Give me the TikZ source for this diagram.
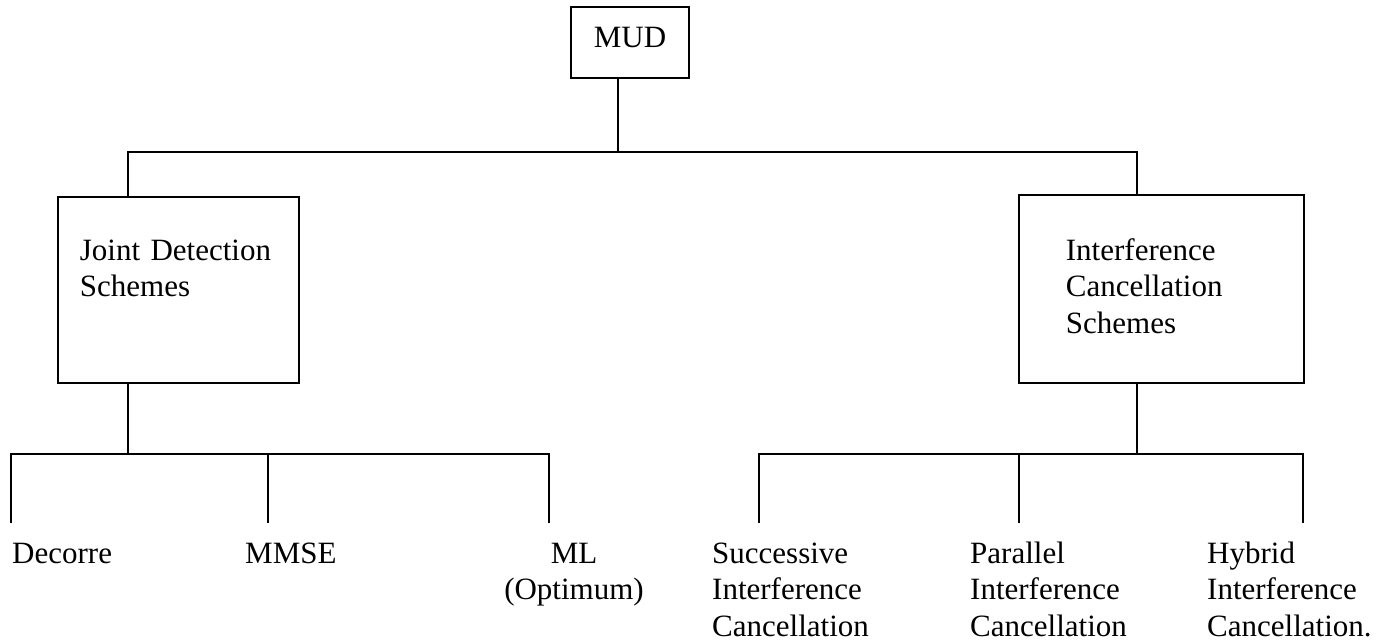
\documentclass[tikz,border=0pt]{standalone}
\usepackage{fontspec}
\setmainfont{Liberation Serif}
\tikzset{
  frame/.style={draw, line width=1.8pt, inner sep=0pt},
  wire/.style={line width=1.8pt, line cap=rect},
  txt/.style={font=\fontsize{31}{36.5}\selectfont, inner sep=0pt, align=left},
  leaf/.style={txt, anchor=base west},
}
\begin{document}
\begin{tikzpicture}[x=1pt, y=-1pt]
\useasboundingbox (0,0) rectangle (1390,640);

% root and the two families of detectors (boxes with a text width hang from their first line)
\node[frame, txt, minimum width=118pt, text height=40pt, text depth=31pt, anchor=base]
  (mud) at (630,47) {MUD};
\node[frame, txt, text width=197pt, inner xsep=22pt, inner ysep=0pt,
  text height=63pt, text depth=123pt, anchor=base west]
  (jd) at (57,260) {Joint Detection\\Schemes};
\node[frame, txt, text width=191pt, inner xsep=47pt, inner ysep=0pt,
  text height=65pt, text depth=123pt, anchor=base west]
  (ic) at (1018,260) {Interference\\Cancellation\\Schemes};

% leaves (base = last text line)
\node[leaf] (dec) at (12,563) {Decorre};
\node[leaf] (mmse) at (245,563) {MMSE};
\node[txt, align=center, anchor=base] (ml) at (574,599.5) {ML\\(Optimum)};
\node[leaf] (sic) at (712,636) {Successive\\Interference\\Cancellation};
\node[leaf] (pic) at (970,636) {Parallel\\Interference\\Cancellation};
\node[leaf] (hic) at (1207,636) {Hybrid\\Interference\\Cancellation.};

% junction points of the tree
\coordinate (root) at (618,152);
\coordinate (jdtop) at (128,152);
\coordinate (ictop) at (1137,152);
\coordinate (jdbus) at (128,454);
\coordinate (icbus) at (1137,454);
\coordinate (d1) at (11,454);  \coordinate (d1e) at (11,522);
\coordinate (d2) at (268,454); \coordinate (d2e) at (268,522);
\coordinate (d3) at (549,454); \coordinate (d3e) at (549,522);
\coordinate (p1) at (759,454); \coordinate (p1e) at (759,522);
\coordinate (p2) at (1019,454); \coordinate (p2e) at (1019,522);
\coordinate (p3) at (1303,454); \coordinate (p3e) at (1303,522);

% upper level
\draw[wire] (mud.south -| root) -- (root);
\draw[wire] (jdtop) -- (ictop);
\draw[wire] (jdtop) -- (jd.north -| jdtop);
\draw[wire] (ictop) -- (ic.north -| ictop);

% joint detection branch
\draw[wire] (jd.south -| jdbus) -- (jdbus);
\draw[wire] (d1e) -- (d1) -- (d3) -- (d3e);
\draw[wire] (d2) -- (d2e);

% interference cancellation branch
\draw[wire] (ic.south -| icbus) -- (icbus);
\draw[wire] (p1e) -- (p1) -- (p3) -- (p3e);
\draw[wire] (p2) -- (p2e);
\end{tikzpicture}
\end{document}
